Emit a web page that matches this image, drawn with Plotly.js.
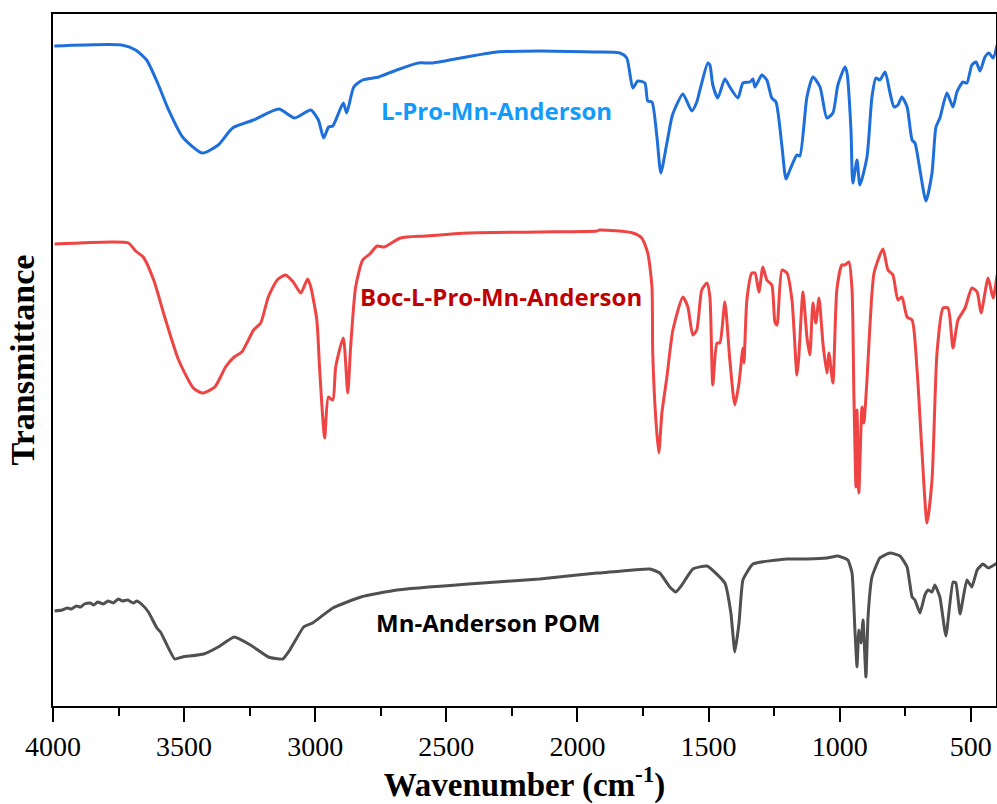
<!DOCTYPE html>
<html><head><meta charset="utf-8">
<script src="https://cdn.plot.ly/plotly-3.0.1.min.js"></script>
<style>html,body{margin:0;padding:0;background:#fff}#chart{width:997px;height:804px}</style>
</head><body><div id="chart"></div>
<script>
// L-Pro-Mn-Anderson (wavenumber, relative transmittance)
const blueWn = [3995,3738,3685,3643,3601,3559,3506,3431,3370,3315,3235,3139,3078,3017,2988,2968,2949,2933,2893,2880,2853,2819,2758,2689,2607,2552,2445,2308,2144,1926,1915,1838,1812,1789,1770,1743,1732,1716,1697,1682,1659,1640,1629,1598,1564,1545,1533,1503,1495,1484,1465,1438,1419,1388,1369,1342,1331,1323,1297,1278,1259,1243,1220,1205,1190,1163,1152,1125,1102,1075,1049,1026,1007,980,972,957,950,934,923,896,877,862,847,827,808,793,778,763,743,724,713,694,671,648,633,618,591,568,553,530,515,496,480,465,446,431,415,400];
const blueT = [660,661,656,646,623,596,569,553,561,578,586,597,588,596,586,568,579,580,603,593,619,626,629,636,643,643,648,654,655,654,654,653,648,618,625,623,605,604,569,533,563,589,597,612,595,604,616,643,641,621,608,627,619,608,623,624,627,619,631,626,608,604,559,527,536,551,550,609,629,619,588,593,621,639,633,576,523,546,521,549,609,628,626,634,613,599,601,609,599,566,563,536,505,533,579,588,613,599,614,624,623,641,644,635,649,653,648,661];

// Boc-L-Pro-Mn-Anderson
const redWn = [3994,3780,3712,3685,3656,3616,3574,3521,3465,3431,3383,3342,3309,3280,3235,3208,3179,3145,3113,3084,3055,3029,3017,2994,2983,2964,2950,2933,2922,2893,2876,2865,2846,2819,2792,2764,2737,2675,2580,2416,2144,1926,1915,1789,1755,1732,1716,1713,1701,1690,1678,1659,1636,1598,1579,1560,1545,1526,1506,1495,1484,1468,1457,1438,1419,1400,1384,1369,1365,1354,1335,1323,1308,1293,1278,1259,1247,1239,1220,1201,1182,1163,1156,1140,1125,1114,1102,1091,1079,1064,1049,1041,1026,1011,992,980,965,953,946,938,934,927,915,908,896,885,869,835,816,797,778,763,743,724,705,686,667,648,629,606,587,568,549,522,496,476,461,434,415,400];
const redT = [462,464,463,455,449,426,389,346,318,313,319,339,349,354,376,383,409,426,431,424,413,427,419,386,336,268,309,306,339,368,313,359,419,446,452,460,459,468,470,473,474,475,476,473,468,453,419,353,286,253,293,329,376,409,399,371,376,416,423,409,321,363,363,404,346,301,323,358,343,406,433,433,414,439,426,421,384,381,436,433,406,331,349,414,369,351,403,383,408,363,333,353,323,416,441,441,444,416,313,219,296,213,299,283,326,379,433,457,436,431,406,409,389,386,336,253,183,226,353,398,398,358,386,398,418,414,393,428,408,431];

// Mn-Anderson POM
const grayWn = [3994,3965,3945,3930,3911,3895,3880,3858,3845,3830,3808,3790,3770,3751,3735,3715,3694,3680,3663,3636,3604,3590,3536,3506,3425,3370,3309,3247,3179,3124,3097,3044,3010,2933,2826,2689,2416,2144,1926,1915,1724,1686,1648,1625,1602,1560,1506,1438,1415,1400,1384,1369,1331,1201,1125,1049,1007,969,953,942,934,927,919,911,900,892,877,847,808,770,743,724,713,694,675,663,648,637,618,595,568,557,541,515,496,476,454,434,400];
const grayT = [95,96,98,97,100,99,102,103,101,104,102,105,103,107,105,106,103,105,102,94,78,74,47,49,52,59,69,61,49,47,56,79,83,98,109,116,122,127,133,133,137,133,119,114,121,137,140,123,93,54,83,126,142,147,147,148,150,146,133,76,39,76,63,86,29,89,129,148,153,150,139,109,106,93,111,116,114,121,109,70,124,123,92,126,119,136,142,138,143];

const xTickVals = [4000,3500,3000,2500,2000,1500,1000,500];
const xTickText = ["4000","3500","3000","2500","2000","1500","1000","500"];
const seriesNames = ["L-Pro-Mn-Anderson","Boc-L-Pro-Mn-Anderson","Mn-Anderson POM"];

const traces = [
  {x: blueWn, y: blueT, name: seriesNames[0], mode: 'lines', line: {color: '#1F6FDB', width: 3, shape: 'spline', smoothing: 0.6}},
  {x: redWn, y: redT, name: seriesNames[1], mode: 'lines', line: {color: '#EF4444', width: 3, shape: 'spline', smoothing: 0.6}},
  {x: grayWn, y: grayT, name: seriesNames[2], mode: 'lines', line: {color: '#505050', width: 3, shape: 'spline', smoothing: 0.4}}
];

const layout = {
  width: 997, height: 804,
  margin: {l: 53, r: 1, t: 14, b: 98},
  font: {family: 'Liberation Serif', size: 28, color: '#000'},
  paper_bgcolor: '#fff', plot_bgcolor: '#fff',
  showlegend: false,
  xaxis: {
    range: [4000, 404], autorange: false,
    tickmode: 'array', tickvals: xTickVals, ticktext: xTickText,
    ticks: 'outside', ticklen: 14, tickwidth: 2, tickcolor: '#000',
    minor: {dtick: 250, tick0: 0, ticks: 'outside', ticklen: 8, tickwidth: 2, tickcolor: '#000'},
    showline: true, linewidth: 2, linecolor: '#000', mirror: true,
    showgrid: false, zeroline: false,
    tickfont: {family: 'Liberation Serif', size: 28, color: '#000'},
    title: {text: '<b>Wavenumber (cm<sup>-1</sup>)</b>', font: {family: 'Liberation Serif', size: 33, color: '#000'}, standoff: 11}
  },
  yaxis: {
    range: [0, 692], autorange: false,
    showticklabels: false, ticks: '',
    showline: true, linewidth: 2, linecolor: '#000', mirror: true,
    showgrid: false, zeroline: false,
    title: {text: '<b>Transmittance</b>', font: {family: 'Liberation Serif', size: 34, color: '#000'}, standoff: 6}
  },
  annotations: [
    {x: 2308, y: 596, xref: 'x', yref: 'y', text: '<b>L-Pro-Mn-Anderson</b>', showarrow: false, font: {family: 'Open Sans', size: 24, color: '#139BFA'}},
    {x: 2292, y: 410, xref: 'x', yref: 'y', text: '<b>Boc-L-Pro-Mn-Anderson</b>', showarrow: false, font: {family: 'Open Sans', size: 24, color: '#C00000'}},
    {x: 2342, y: 84, xref: 'x', yref: 'y', text: '<b>Mn-Anderson POM</b>', showarrow: false, font: {family: 'Open Sans', size: 24, color: '#000'}}
  ]
};

Plotly.newPlot('chart', traces, layout, {staticPlot: true, displayModeBar: false});
</script>
</body></html>
